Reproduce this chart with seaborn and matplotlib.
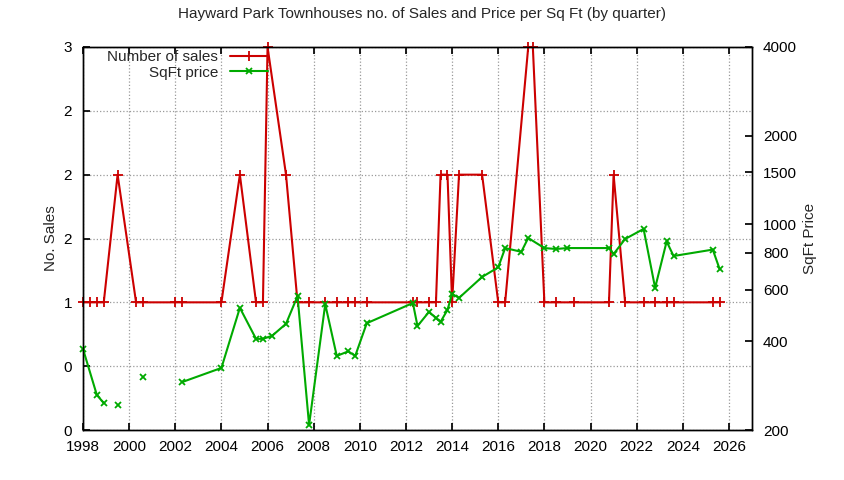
import numpy as np
import pandas as pd
import matplotlib
matplotlib.use("Agg")
import matplotlib.pyplot as plt
import seaborn as sns
from matplotlib.ticker import FixedLocator, FuncFormatter, NullLocator

sales_x = [1998.0,1998.3,1998.6,1998.9,1999.5,2000.3,2000.6,2002.0,2002.3,2004.0,2004.8,2005.5,2005.8,2006.0,2006.8,2007.3,2007.8,2008.5,2009.0,2009.5,2009.8,2010.3,2012.3,2012.5,2013.0,2013.3,2013.5,2013.8,2014.0,2014.3,2015.3,2016.0,2016.3,2017.3,2017.5,2018.0,2018.5,2019.3,2020.8,2021.0,2021.5,2022.3,2022.8,2023.3,2023.6,2025.3,2025.6]
sales_y = [1,1,1,1,2,1,1,1,1,1,2,1,1,3,2,1,1,1,1,1,1,1,1,1,1,1,2,2,1,2,2,1,1,3,3,1,1,1,1,2,1,1,1,1,1,1,1]

price_x = [1998.0,1998.6,1998.9,1999.2,1999.5,1999.9,2000.6,2001.5,2002.3,2004.0,2004.8,2005.5,2005.8,2006.2,2006.8,2007.3,2007.8,2008.5,2009.0,2009.5,2009.8,2010.3,2012.3,2012.5,2013.0,2013.3,2013.5,2013.8,2014.0,2014.3,2015.3,2016.0,2016.3,2017.0,2017.3,2018.0,2018.5,2019.0,2020.8,2021.0,2021.5,2022.3,2022.8,2023.3,2023.6,2025.3,2025.6]
price_y = [377,263,247,np.nan,243,np.nan,303,np.nan,291,325,520,408,408,418,459,570,208,535,357,370,357,461,540,451,504,480,466,512,580,562,662,714,830,806,898,830,824,830,830,792,891,964,608,874,780,820,703]

sns.set_theme(style="white")
plt.rcParams['font.family'] = ['Liberation Sans', 'DejaVu Sans']

fig = plt.figure(figsize=(8.44, 4.8), dpi=100)
ax = fig.add_axes([83/844, 50/480, (752-83)/844, (430-47)/480])
ax2 = ax.twinx()

df = pd.DataFrame({"x": sales_x, "y": sales_y})
sns.lineplot(data=df, x="x", y="y", ax=ax, color="#cc0000", linewidth=1.5,
             label="Number of sales", legend=False)
ax.lines[0].set_marker("+")
ax.lines[0].set_markersize(7)
ax.lines[0].set_markeredgewidth(1.3)
ax.lines[0].set_markeredgecolor("#cc0000")
ax.lines[0].set_clip_on(False)
ax2.plot(price_x, price_y, color="#00aa00", marker="x", markersize=4,
         markeredgewidth=1.3, linewidth=1.5, label="SqFt price", clip_on=False)

ax.set_xlim(1998, 2027)
ax.set_xticks(range(1998, 2027, 2))
ax.set_xlabel("")
ax.set_ylim(0, 3)
ax.set_yticks(np.arange(0, 3.01, 0.5))
ax.yaxis.set_major_formatter(FuncFormatter(lambda v, p: f"{v:.0f}"))
ax2.set_yscale("log")
ax2.set_ylim(200, 4000)
ax2.yaxis.set_major_locator(FixedLocator([200, 400, 600, 800, 1000, 1500, 2000, 4000]))
ax2.yaxis.set_minor_locator(NullLocator())
ax2.yaxis.set_major_formatter(FuncFormatter(lambda v, p: f"{v:g}"))

ax.grid(True, color="#999999", linestyle=":", linewidth=0.9)
for a in (ax, ax2):
    for s in a.spines.values():
        s.set_color("black"); s.set_linewidth(1)
    a.tick_params(labelsize=11, colors="black", direction="in", length=5)
ax.tick_params(axis="x", top=True, bottom=True, pad=7)
ax.tick_params(axis="y", left=True, pad=8)
ax2.tick_params(axis="y", right=True, pad=8)
ax.set_ylabel("No. Sales", fontsize=11)
ax2.set_ylabel("SqFt Price", fontsize=11)
fig.suptitle("Hayward Park Townhouses no. of Sales and Price per Sq Ft (by quarter)", fontsize=11, y=0.985)

h1, l1 = ax.get_legend_handles_labels()
h2, l2 = ax2.get_legend_handles_labels()
ax2.legend([ax.lines[0]] + h2, ["Number of sales"] + l2, loc="upper left", bbox_to_anchor=(0.02, 1.02),
           markerfirst=False, frameon=False, fontsize=11, handlelength=2.5, borderpad=0.2, labelspacing=0.1)

fig.savefig("out.png", dpi=100)
